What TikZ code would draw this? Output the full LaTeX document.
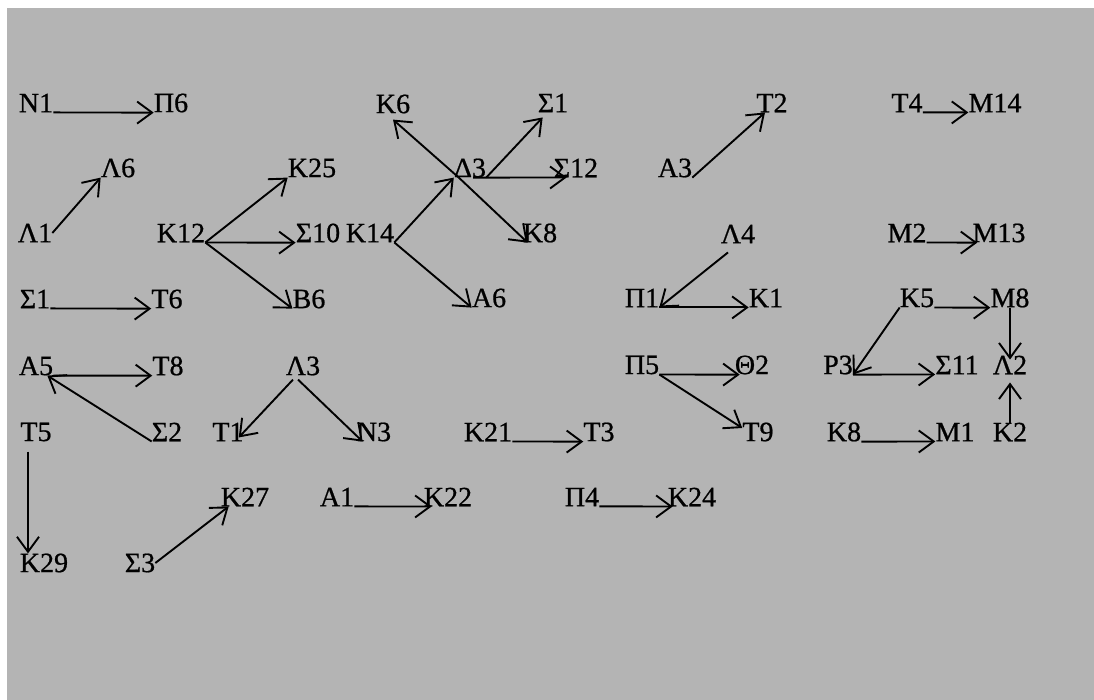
\documentclass[tikz,border=0pt]{standalone}
\usepackage{fontspec}
\setmainfont{Liberation Serif}
\newfontfamily\lblfont{Liberation Serif}[FakeBold=0.7]
\usetikzlibrary{arrows.meta}
\definecolor{panelgray}{RGB}{180,180,180}
\tikzset{
  >={Straight Barb[length=15pt,width=22pt]},
  lbl/.style={inner sep=0pt,font=\lblfont\fontsize{28}{30}\selectfont},
  lnk/.style={->,line width=1.9pt,black},
}
\begin{document}
\begin{tikzpicture}[x=1pt,y=-1pt]
  \useasboundingbox (0,0) rectangle (1094,700);
  \fill[white] (0,0) rectangle (1094,700);
  \fill[panelgray] (7,8) rectangle (1094,700);
  \foreach \nm/\x/\y/\txt in {
    N1/36/103/N1, Pi6/171/103/Π6, K6/393/104/K6, S1a/553/103/Σ1,
    T2/772/103/T2, T4/907/103/T4, M14/995/103/M14,
    L6/118/168/Λ6, K25/312/168/K25, D3/470/168/Δ3, S12/576/168/Σ12,
    A3/675/168/A3,
    L1/35/233/Λ1, K12/181/233/K12, S10/318/233/Σ10, K14/370/233/K14,
    K8a/540/233/K8, L4/738/234/Λ4, M2/907/233/M2, M13/999/233/M13,
    S1b/35/299/Σ1, T6/167/299/T6, B6/309/299/B6, A6/489/298/A6,
    Pi1/642/298/Π1, K1/766/298/K1, K5/917/298/K5, M8/1010/298/M8,
    A5/36/366/A5, T8/168/366/T8, L3/303/366/Λ3, Pi5/642/365/Π5,
    TH2/752/365/Θ2, P3/838/365/P3, S11/957/365/Σ11, L2/1010/365/Λ2,
    T5/36/432/T5, S2/167/432/Σ2, T1/228/432/T1, N3/374/432/N3,
    K21/488/432/K21, T3/599/432/T3, T9/758/432/T9, K8b/844/432/K8,
    M1/955/432/M1, K2/1010/432/K2,
    K27/245/497/K27, A1/337/497/A1, K22/448/497/K22, Pi4/582/497/Π4,
    K24/692/497/K24,
    K29/44/563/K29, S3/140/563/Σ3}
    \node[lbl] (\nm) at (\x,\y) {\txt};
  \coordinate (t5a) at ([xshift=-8pt,yshift=-10pt]T5.south);

  \draw[lnk] (N1.south east) -- (Pi6.south west);
  \draw[lnk] (L1.east) -- (L6.south west);
  \draw[lnk] (K12.south east) -- (K25.south west);
  \draw[lnk] (K12.south east) -- (S10.south west);
  \draw[lnk] (K12.south east) -- (B6.south west);
  \draw[lnk] (K14.south east) -- (D3.south west);
  \draw[lnk] (K14.south east) -- (A6.south west);
  \draw[lnk] ([xshift=5pt]D3.south west) -- ([yshift=-6pt]K6.south);
  \draw[lnk] ([xshift=5pt]D3.south west) -- ([xshift=5pt]K8a.south west);
  \draw[lnk] (D3.south east) -- ([xshift=5pt,yshift=-5pt]S1a.south west);
  \draw[lnk] ([xshift=3pt]D3.south) -- ([xshift=13pt]S12.south west);
  \draw[lnk] (A3.south east) -- ([xshift=-7pt]T2.south);
  \draw[lnk] (T4.south east) -- (M14.south west);
  \draw[lnk] ([xshift=-10pt,yshift=-9pt]L4.south) -- (Pi1.south east);
  \draw[lnk] (Pi1.south east) -- (K1.south west);
  \draw[lnk] (M2.south east) -- ([xshift=5pt]M13.south west);
  \draw[lnk] (K5.south east) -- (M8.south west);
  \draw[lnk] (K5.south west) -- (P3.south east);
  \draw[lnk] (P3.south east) -- (S11.south west);
  \draw[lnk] (M8.south) -- ([yshift=-4pt]L2.north);
  \draw[lnk] (K2.north) -- ([yshift=-8pt]L2.south);
  \draw[lnk] (Pi5.south east) -- ([xshift=5pt]TH2.south west);
  \draw[lnk] (Pi5.south east) -- ([yshift=4pt]T9.west);
  \draw[lnk] (K8b.south east) -- (M1.south west);
  \draw[lnk] (S1b.south east) -- (T6.south west);
  \draw[lnk] (A5.south east) -- (T8.south west);
  \draw[lnk] (S2.south west) -- ([xshift=-6pt]A5.south east);
  \draw[lnk] (t5a) -- (t5a |- K29.north);
  \draw[lnk] (S3.east) -- ([xshift=8pt]K27.south west);
  \draw[lnk] ([xshift=-10pt,yshift=-4pt]L3.south) -- ([xshift=-5pt,yshift=4pt]T1.south east);
  \draw[lnk] ([xshift=-5pt,yshift=-4pt]L3.south) -- ([xshift=6pt]N3.south west);
  \draw[lnk] (K21.south east) -- (T3.south west);
  \draw[lnk] (A1.south east) -- ([xshift=8pt]K22.south west);
  \draw[lnk] (Pi4.south east) -- ([xshift=5pt]K24.south west);
\end{tikzpicture}
\end{document}
